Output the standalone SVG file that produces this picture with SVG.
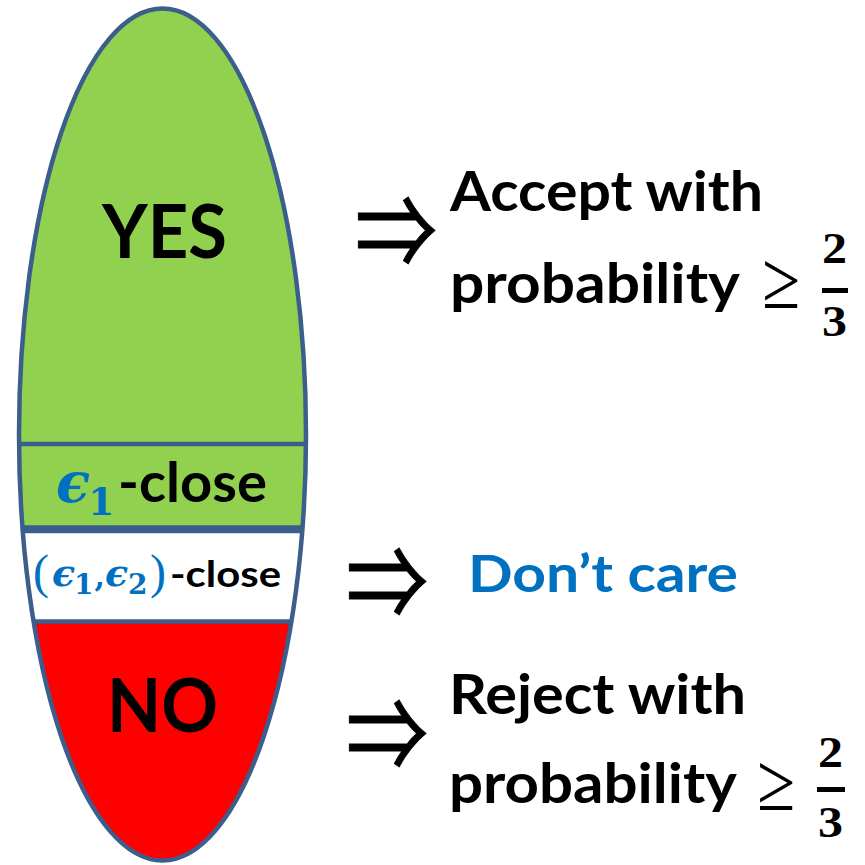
<svg xmlns="http://www.w3.org/2000/svg" width="865" height="865" viewBox="0 0 865 865">
<style>
.sans{font-family:Lato,"Open Sans","Liberation Sans",sans-serif;font-weight:bold;fill:#000}
.blue{fill:#0070C0}
.eps{font-family:"DejaVu Serif","Liberation Serif",serif;font-style:italic;font-weight:bold;fill:#0070C0}
.sub{font-family:"DejaVu Serif","Liberation Serif",serif;font-weight:bold;font-style:normal;fill:#0070C0}
.par{font-family:"Liberation Serif","DejaVu Serif",serif;font-weight:normal;font-style:normal;fill:#0070C0}
.arrow{font-family:"Noto Sans CJK JP","DejaVu Sans",sans-serif;fill:#000;stroke:#000;stroke-width:1}
.math{font-family:"Liberation Serif","DejaVu Serif",serif;fill:#000}
.frac{font-family:"Liberation Serif","DejaVu Serif",serif;font-weight:bold;fill:#000}
.sep{stroke:#3B5E8C;stroke-width:4.5;fill:none}
</style>
<defs>
<clipPath id="ell"><ellipse cx="162.5" cy="434.5" rx="143.5" ry="426"/></clipPath>
</defs>
<rect width="865" height="865" fill="#fff"/>
<g id="region-yes">
<rect x="0" y="0" width="330" height="444" fill="#92D050" clip-path="url(#ell)"/>
<text class="sans" x="102" y="258" font-size="74" textLength="125" lengthAdjust="spacingAndGlyphs">YES</text>
</g>
<g id="region-eps1-close">
<rect x="0" y="444" width="330" height="85" fill="#92D050" clip-path="url(#ell)"/>
<text class="eps" x="56" y="502" font-size="56">ϵ<tspan class="sub" x="88" y="515" font-size="38">1</tspan></text>
<text class="sans" x="118" y="502" font-size="56" textLength="149" lengthAdjust="spacingAndGlyphs">-close</text>
</g>
<g id="region-eps12-close">
<rect x="0" y="529" width="330" height="93" fill="#fff" clip-path="url(#ell)"/>
<text class="eps" font-size="38"><tspan class="par" x="33" y="588" font-size="48">(</tspan><tspan x="52" y="586">ϵ</tspan><tspan class="sub" x="74" y="594" font-size="28">1</tspan><tspan class="sub" x="94.5" y="587" font-size="30">,</tspan><tspan x="105" y="586">ϵ</tspan><tspan class="sub" x="128" y="594" font-size="28">2</tspan><tspan class="par" x="150" y="588" font-size="48">)</tspan></text>
<text class="sans" x="170" y="587" font-size="37" textLength="111" lengthAdjust="spacingAndGlyphs">-close</text>
</g>
<g id="region-no">
<rect x="0" y="622" width="330" height="250" fill="#FF0000" clip-path="url(#ell)"/>
<text class="sans" x="107" y="732" font-size="74" textLength="111" lengthAdjust="spacingAndGlyphs">NO</text>
</g>
<g id="outline">
<g clip-path="url(#ell)">
<line class="sep" x1="0" y1="444" x2="330" y2="444"/>
<line class="sep" x1="0" y1="527.5" x2="330" y2="527.5"/>
<line class="sep" x1="0" y1="531" x2="330" y2="531"/>
<line class="sep" x1="0" y1="621.5" x2="330" y2="621.5"/>
</g>
<ellipse class="sep" cx="162.5" cy="434.5" rx="143.5" ry="426"/>
</g>
<g id="connectors">
<text class="arrow" x="355" y="268" font-size="100" textLength="82" lengthAdjust="spacingAndGlyphs">⇒</text>
<text class="arrow" x="346" y="619" font-size="100" textLength="82" lengthAdjust="spacingAndGlyphs">⇒</text>
<text class="arrow" x="346" y="771" font-size="100" textLength="82" lengthAdjust="spacingAndGlyphs">⇒</text>
</g>
<g id="label-accept">
<text class="sans" x="450" y="211" font-size="56" textLength="313" lengthAdjust="spacingAndGlyphs">Accept with</text>
<text class="sans" x="450" y="303" font-size="56" textLength="290" lengthAdjust="spacingAndGlyphs">probability</text>
<text class="math" x="762" y="308" font-size="82" textLength="38" lengthAdjust="spacingAndGlyphs">≥</text>
<text class="frac" x="822" y="263" font-size="44" textLength="25" lengthAdjust="spacingAndGlyphs">2</text>
<rect x="822" y="288" width="26" height="5" fill="#000"/>
<text class="frac" x="822" y="336" font-size="44" textLength="25" lengthAdjust="spacingAndGlyphs">3</text>
</g>
<g id="label-dontcare">
<text class="sans blue" x="468" y="592" font-size="51" textLength="270" lengthAdjust="spacingAndGlyphs">Don’t care</text>
</g>
<g id="label-reject">
<text class="sans" x="449" y="714" font-size="56" textLength="297" lengthAdjust="spacingAndGlyphs">Reject with</text>
<text class="sans" x="449" y="803" font-size="56" textLength="288" lengthAdjust="spacingAndGlyphs">probability</text>
<text class="math" x="757" y="810" font-size="82" textLength="38" lengthAdjust="spacingAndGlyphs">≥</text>
<text class="frac" x="818" y="767" font-size="44" textLength="25" lengthAdjust="spacingAndGlyphs">2</text>
<rect x="817" y="787" width="28" height="5" fill="#000"/>
<text class="frac" x="818" y="837" font-size="44" textLength="25" lengthAdjust="spacingAndGlyphs">3</text>
</g>
</svg>
